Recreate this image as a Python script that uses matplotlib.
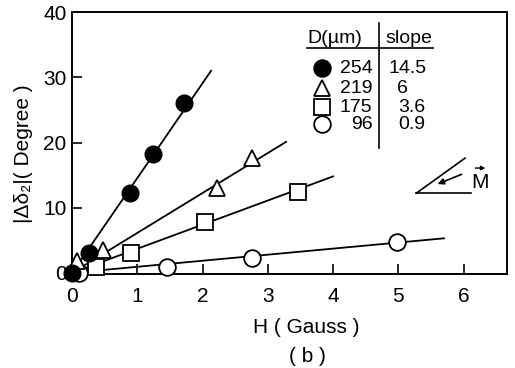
import matplotlib
matplotlib.use('Agg')
import matplotlib.pyplot as plt

plt.rcParams['font.family'] = ['Liberation Sans', 'DejaVu Sans']

h_254 = [0.0, 0.26, 0.89, 1.24, 1.72]
d_254 = [0.0, 3.0, 12.2, 18.2, 26.1]
h_219 = [0.08, 0.48, 2.22, 2.76]
d_219 = [1.8, 3.5, 13.0, 17.6]
h_175 = [0.37, 0.90, 2.04, 3.47]
d_175 = [0.9, 3.0, 7.8, 12.4]
h_96 = [0.10, 1.45, 2.75, 4.98]
d_96 = [0.0, 0.9, 2.3, 4.7]

# フィット直線 (原点から終点まで)
fit_end_h = [2.13, 3.28, 4.0, 5.7]
fit_end_d = [31.0, 20.1, 14.8, 5.3]

diameters = ['254', '219', '175', '96']
slopes = ['14.5', '6', '3.6', '0.9']

fig = plt.figure(figsize=(5.15, 3.68), dpi=100)
ax = fig.add_axes([0.140, 0.255, 0.845, 0.712])

for xe, ye in zip(fit_end_h, fit_end_d):
    ax.plot([0, xe], [0, ye], color='black', lw=1.3, zorder=2)

ax.plot(h_96, d_96, 'o', ms=12, mfc='white', mec='black', mew=1.3, zorder=3, clip_on=False)
ax.plot(h_175, d_175, 's', ms=11, mfc='white', mec='black', mew=1.3, zorder=4, clip_on=False)
ax.plot(h_219, d_219, '^', ms=11, mfc='white', mec='black', mew=1.3, zorder=5, clip_on=False)
ax.plot(h_254, d_254, 'o', ms=12, mfc='black', mec='black', zorder=6, clip_on=False)

ax.set_xlim(0, 6.67)
ax.set_ylim(-0.2, 40)
ax.set_xticks([0, 1, 2, 3, 4, 5, 6])
ax.set_yticks([0, 10, 20, 30, 40])
ax.tick_params(direction='in', length=7, width=1.2, labelsize=15)
ax.tick_params(axis='x', pad=9)
ax.tick_params(axis='y', pad=4)
for sp in ax.spines.values():
    sp.set_linewidth(1.4)

fig.text(0.595, 0.111, 'H ( Gauss )', ha='center', va='center', fontsize=15)
fig.text(0.596, 0.030, '( b )', ha='center', va='center', fontsize=15)
fig.text(0.045, 0.582, '|Δδ₂|( Degree )', ha='center', va='center',
         rotation=90, fontsize=15)

# 凡例表
tr = ax.transAxes
ax.text(0.540, 0.900, 'D(µm)', transform=tr, ha='left', va='center', fontsize=14)
ax.text(0.720, 0.900, 'slope', transform=tr, ha='left', va='center', fontsize=14)
ax.plot([0.540, 0.830], [0.863, 0.863], transform=tr, color='black', lw=1.2)
ax.plot([0.706, 0.706], [0.481, 0.958], transform=tr, color='black', lw=1.2)

row_y = [0.786, 0.710, 0.637, 0.573]
styles = [('o', 'black', 12), ('^', 'white', 11), ('s', 'white', 11), ('o', 'white', 12)]
slope_x = [0.726, 0.747, 0.749, 0.749]
for y, d, s, (m, fc, ms), sx in zip(row_y, diameters, slopes, styles, slope_x):
    ax.plot([0.575], [y], m, ms=ms, mfc=fc, mec='black', mew=1.3, transform=tr)
    ax.text(0.690, y, d, transform=tr, ha='right', va='center', fontsize=14)
    ax.text(sx, y, s, transform=tr, ha='left', va='center', fontsize=14)

# 磁化方向の図
ax.plot([0.791, 0.903], [0.309, 0.443], transform=tr, color='black', lw=1.2)
ax.plot([0.791, 0.917], [0.309, 0.309], transform=tr, color='black', lw=1.2)
ax.annotate('', xy=(0.834, 0.340), xytext=(0.901, 0.385), xycoords=tr,
            arrowprops=dict(arrowstyle='-|>', color='black', lw=1.2, mutation_scale=9))
ax.text(0.937, 0.350, 'M', transform=tr, ha='center', va='center', fontsize=15)
ax.annotate('', xy=(0.956, 0.405), xytext=(0.920, 0.405), xycoords=tr,
            arrowprops=dict(arrowstyle='-|>', color='black', lw=1.0, mutation_scale=6))

fig.savefig('out.png', dpi=100)
